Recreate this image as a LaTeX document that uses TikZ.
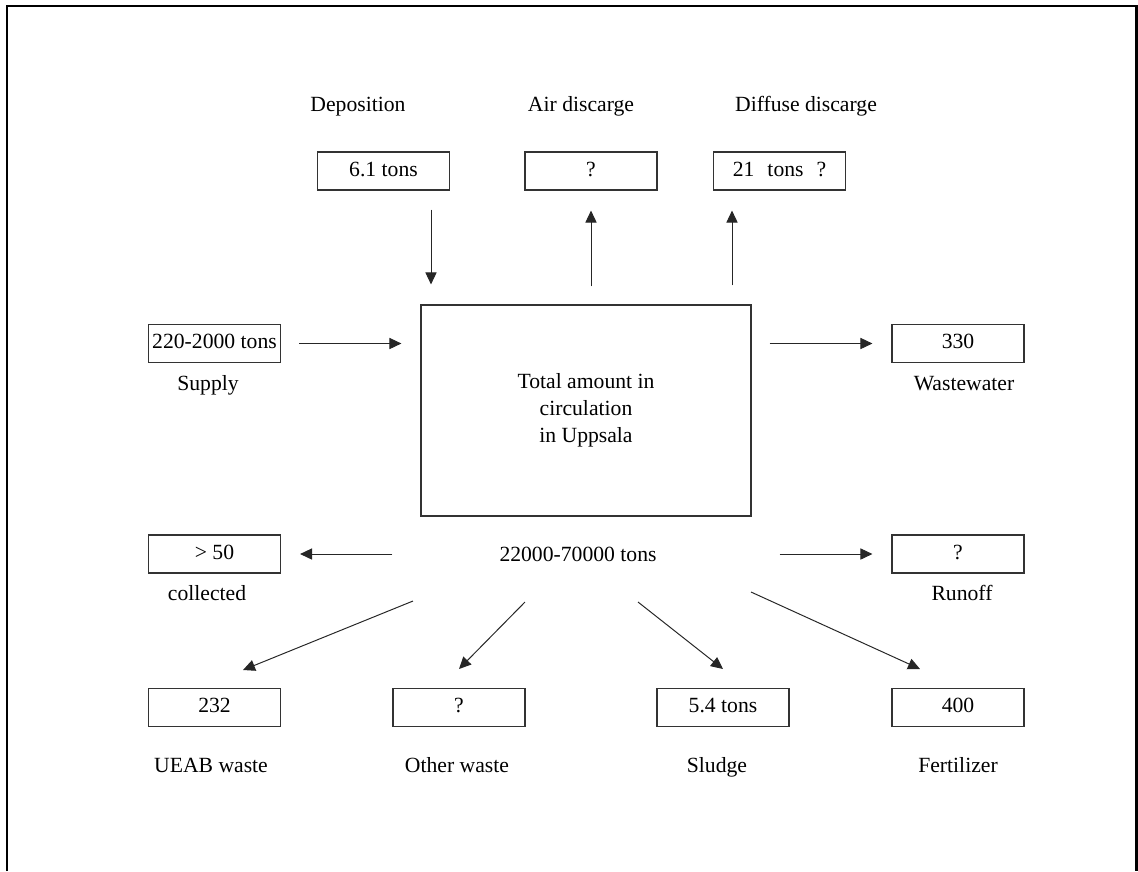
\documentclass[tikz,border=0pt]{standalone}
\usepackage{fontspec}
\setmainfont{Liberation Serif}
\usetikzlibrary{arrows.meta}

\begin{document}
\begin{tikzpicture}[x=0.025cm, y=-0.025cm,
        font=\fontsize{15.4pt}{19.2pt}\selectfont,
        valbox/.style={rectangle, draw=black!80, line width=0.8pt, minimum width=3.3cm, minimum height=0.95cm, inner sep=2pt, text height=0.75em, text depth=0pt},
        mainbox/.style={rectangle, draw=black!80, line width=0.8pt, minimum width=8.25cm, minimum height=5.275cm, align=center},
        lbl/.style={inner sep=0pt, text height=0.7em, text depth=0.25em},
        flow/.style={draw=black!85, line width=0.7pt, -{Triangle[length=0.3cm, width=0.28cm]}}]

    \useasboundingbox (0,0) rectangle (1138,871);
    \draw[line width=1.5pt] (7,871) -- (7,6) -- (1136.5,6) -- (1136.5,871);

    % middle
    \node[mainbox] (total) at (586,410.5) {Total amount in\\circulation\\in Uppsala};
    \node[lbl] (amount) at (578,558) {22000-70000 tons};

    % top row
    \node[valbox] (dep) at (383.5,171) {6.1 tons};
    \node[valbox] (air) at (591,171) {?};
    \node[valbox] (diff) at (779.5,171) {21\hspace{0.6em}tons\hspace{0.6em}?};
    \node[lbl] (depl) at (358,108) {Deposition};
    \node[lbl] (airl) at (581,108) {Air discarge};
    \node[lbl] (diffl) at (806,108) {Diffuse discarge};

    % sides
    \node[valbox] (supply) at (214.5,343.5) {220-2000 tons};
    \node[valbox] (waste) at (958,343.5) {330};
    \node[valbox] (coll) at (214.5,554) {> 50};
    \node[valbox] (runoff) at (958,554) {?};
    \node[lbl] (supl) at (208,387) {Supply};
    \node[lbl] (wastel) at (964,387) {Wastewater};
    \node[lbl] (colll) at (207,597) {collected};
    \node[lbl] (runl) at (962,597) {Runoff};

    % bottom row
    \node[valbox] (ueab) at (214.5,707.5) {232};
    \node[valbox] (other) at (459,707.5) {?};
    \node[valbox] (sludge) at (723,707.5) {5.4 tons};
    \node[valbox] (fert) at (958,707.5) {400};
    \node[lbl] (ueabl) at (211,769) {UEAB waste};
    \node[lbl] (otherl) at (457,769) {Other waste};
    \node[lbl] (sludgel) at (717,769) {Sludge};
    \node[lbl] (fertl) at (958,769) {Fertilizer};

    % flows in and out
    \draw[flow, shorten <=0.475cm, shorten >=0.5cm] (dep.south -| 431,0) -- (total.north -| 431,0);
    \draw[flow, shorten <=0.45cm, shorten >=0.5cm] (total.north -| air.south) -- (air.south);
    \draw[flow, shorten <=0.475cm, shorten >=0.5cm] (total.north -| 732,0) -- (diff.south -| 732,0);
    \draw[flow, shorten <=0.45cm, shorten >=0.475cm] (supply.east) -- (supply.east -| total.west);
    \draw[flow, shorten <=0.45cm, shorten >=0.475cm] (total.east |- waste.west) -- (waste.west);
    \draw[flow, shorten <=0.7cm, shorten >=0.475cm] (coll.east -| total.west) -- (coll.east);
    \draw[flow, shorten <=0.7cm, shorten >=0.475cm] (total.east |- runoff.west) -- (runoff.west);

    % flows to the bottom row
    \coordinate (u1) at (413,601);
    \coordinate (u2) at (243,670);
    \coordinate (o1) at (525,602);
    \coordinate (o2) at (459,669);
    \coordinate (s1) at (638,602);
    \coordinate (s2) at (723,669);
    \coordinate (f1) at (751,592);
    \coordinate (f2) at (920,669);
    \draw[flow] (u1) -- (u2);
    \draw[flow] (o1) -- (o2);
    \draw[flow] (s1) -- (s2);
    \draw[flow] (f1) -- (f2);
\end{tikzpicture}
\end{document}
